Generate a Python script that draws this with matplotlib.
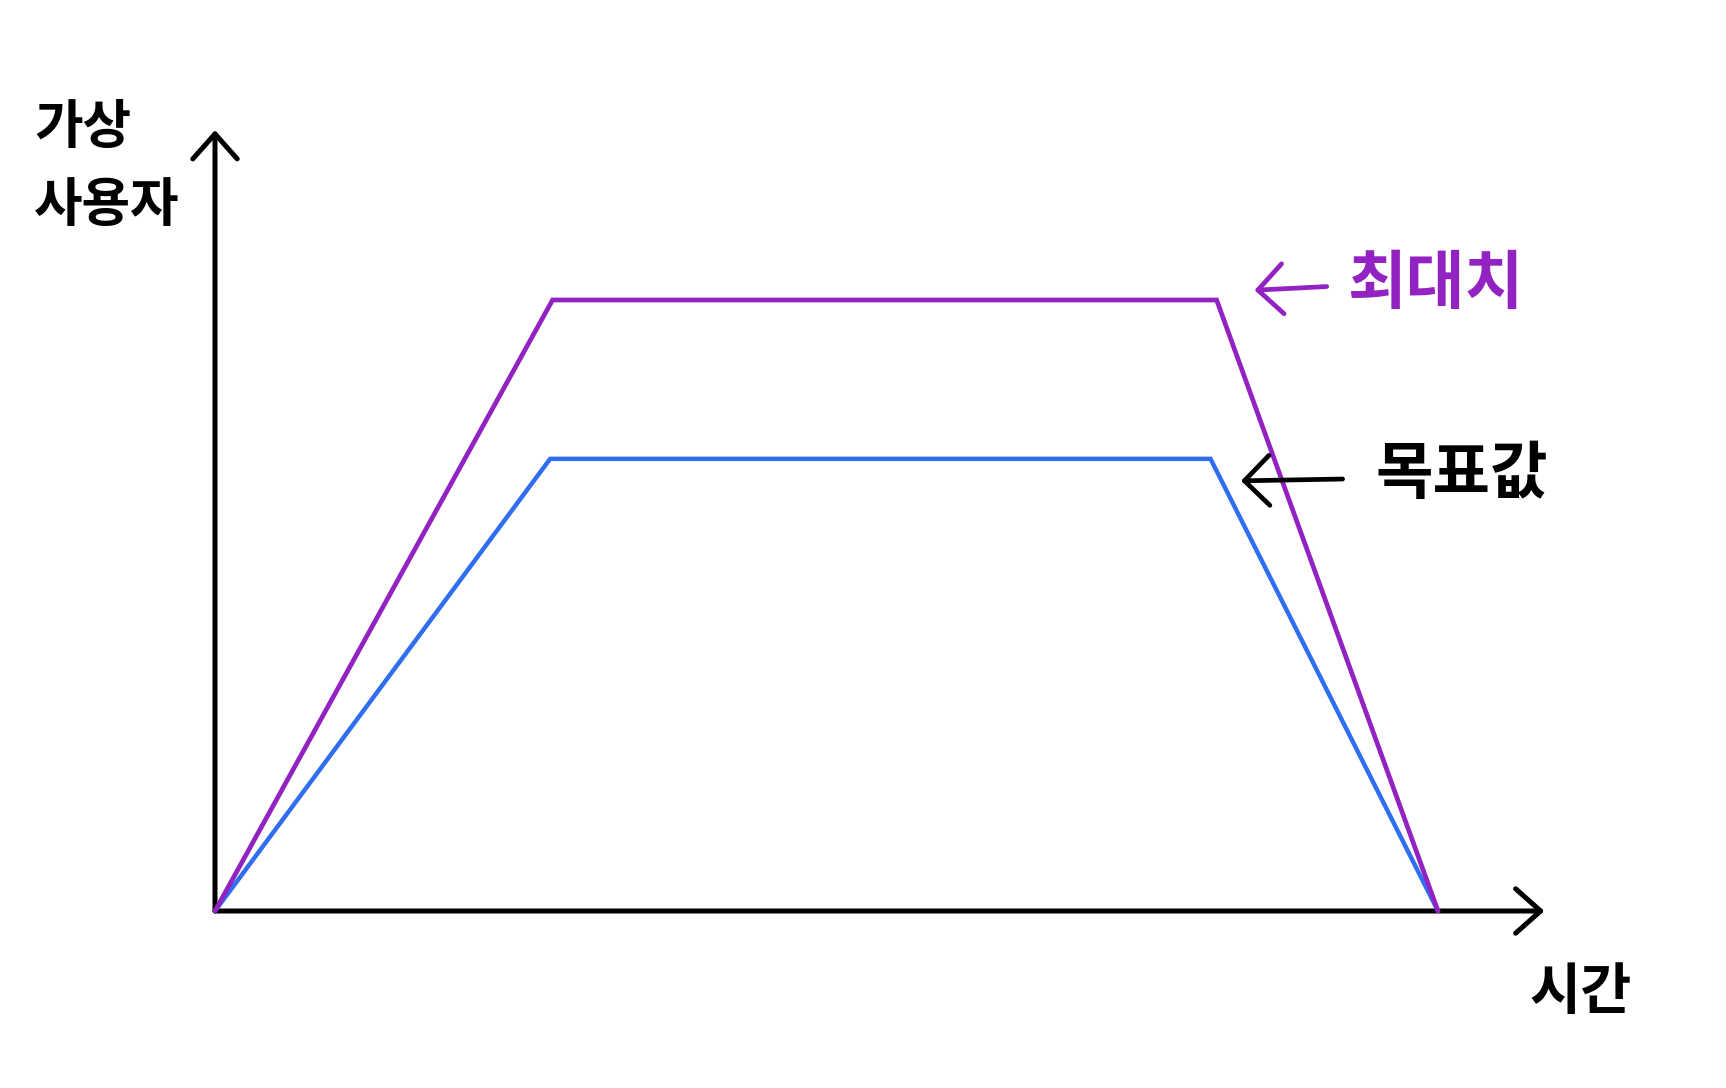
import matplotlib
matplotlib.use("Agg")
import matplotlib.pyplot as plt

plt.rcParams['font.family'] = ['Noto Sans CJK KR', 'DejaVu Sans']

# sketch of a load test profile: ramp up, hold, ramp down
time_max = [0, 27.6, 81.9, 100]
users_max = [0, 100, 100, 0]
time_target = [0, 27.4, 81.4, 100]
users_target = [0, 74, 74, 0]

label_y = '가상\n사용자'
label_x = '시간'
label_max = '최대치'
label_target = '목표값'

PURPLE = '#9322c2'
BLUE = '#2f6ef0'

fig = plt.figure(figsize=(17.26, 10.88), dpi=100)
ax = fig.add_axes([0, 0, 1, 1])
ax.set_xlim(-17.58, 123.55)
ax.set_ylim(-28.97, 149.1)
ax.axis('off')

# hand drawn axes with arrow heads
ax_arrow = dict(arrowstyle='->,head_length=0.9,head_width=0.8', lw=3.6,
                color='black', mutation_scale=20, shrinkA=0, shrinkB=0,
                capstyle='round', joinstyle='round')
ax.annotate('', xy=(108.7, 0), xytext=(0, 0), arrowprops=ax_arrow, zorder=1)
ax.annotate('', xy=(0, 127.8), xytext=(0, 0), arrowprops=ax_arrow, zorder=1)

ax.plot(time_target, users_target, color=BLUE, lw=3.2,
        solid_capstyle='round', solid_joinstyle='miter', zorder=2)
ax.plot(time_max, users_max, color=PURPLE, lw=3.4,
        solid_capstyle='round', solid_joinstyle='miter', zorder=3)

# labels
ax.text(-14.8, 121.8, label_y, fontsize=38, ha='left', va='center',
        linespacing=1.6, fontweight='bold')
ax.text(107.5, -13.4, label_x, fontsize=40, ha='left', va='center',
        fontweight='bold')

note_arrow = dict(arrowstyle='->,head_length=0.9,head_width=0.9', lw=3.4,
                  mutation_scale=20, shrinkA=0, shrinkB=0,
                  capstyle='round', joinstyle='round')
ax.annotate('', xy=(85.0, 101.6), xytext=(90.9, 102.2),
            arrowprops=dict(note_arrow, color=PURPLE))
ax.text(92.6, 102.6, label_max, fontsize=46, color=PURPLE,
        ha='left', va='center', fontweight='bold')

ax.annotate('', xy=(83.9, 70.4), xytext=(92.2, 70.7),
            arrowprops=dict(note_arrow, color='black'))
ax.text(94.9, 71.4, label_target, fontsize=45, color='black',
        ha='left', va='center', fontweight='bold')

fig.savefig('out.png', dpi=100, facecolor='white')
